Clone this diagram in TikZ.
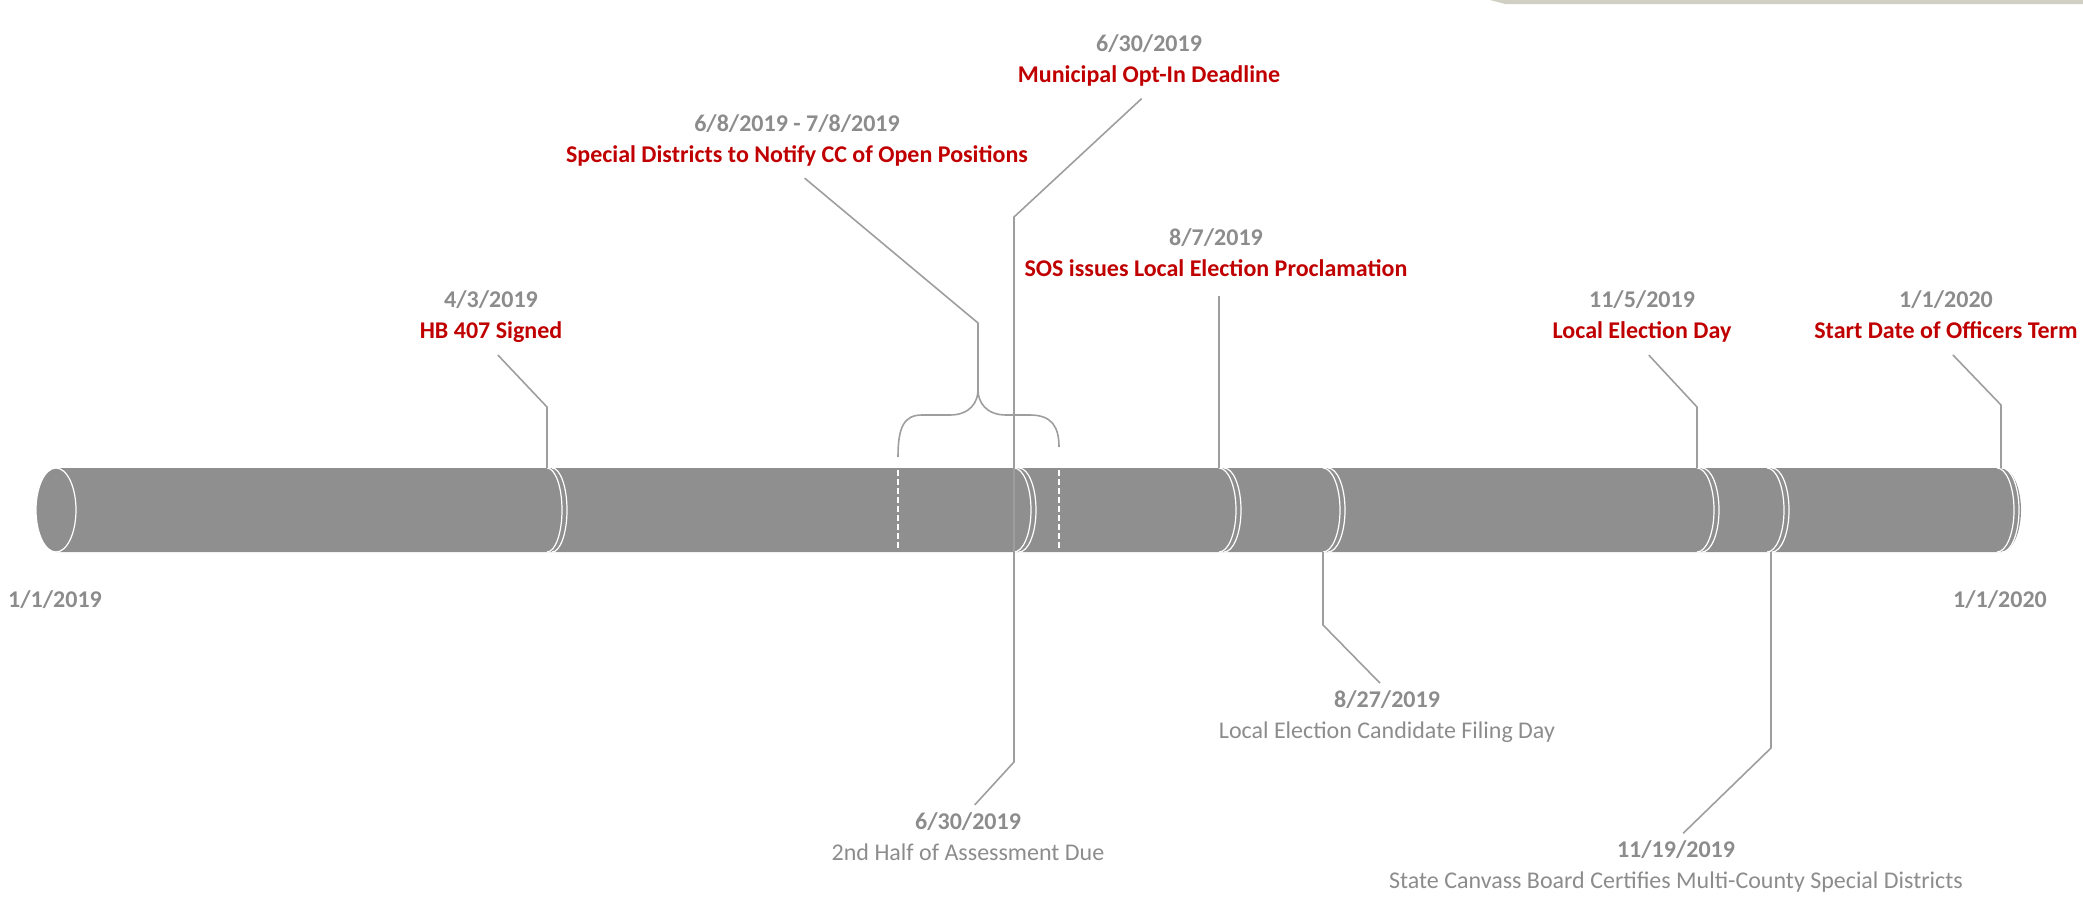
\documentclass[tikz,border=0pt]{standalone}
\usepackage{fontspec}
\setmainfont{Carlito}

\definecolor{tlfill}{HTML}{8F8F8F}
\definecolor{tlline}{HTML}{9E9E9E}
\definecolor{tlgray}{HTML}{8C8C8C}
\definecolor{tlred}{HTML}{C00000}
\definecolor{tlband}{HTML}{CFCFC4}

\begin{document}
\begin{tikzpicture}[x=1pt, y=-1pt,
  datelbl/.style={align=center, inner sep=0pt, text=tlgray,
    font=\fontsize{24}{31}\selectfont\bfseries,
    execute at begin node=\strut, execute at end node=\strut},
  callout/.style={draw=tlline, line width=1.6pt, shorten >=10pt},
  seam/.style={white, line width=1.2pt},
  dashline/.style={white, line width=1.2pt, dash pattern=on 6pt off 3pt}]

\useasboundingbox (0,0) rectangle (2083,900);
\fill[tlband] (1490,0) -- (2083,0) -- (2083,4) -- (1505,4) -- cycle;

% timeline bar
\fill[tlfill] (56,468) -- (2001,468) arc (90:-90:20pt and 42pt) -- (56,552) arc (270:90:20pt and 42pt) -- cycle;
\draw[seam] (56,510) ellipse (20pt and 42pt);
\draw[seam] (547,468) arc (90:-90:15pt and 42pt) (552,468) arc (90:-90:15pt and 42pt);
\draw[seam] (1014,468) arc (90:-90:17pt and 42pt) (1019,468) arc (90:-90:17pt and 42pt);
\draw[seam] (1219,468) arc (90:-90:17pt and 42pt) (1224,468) arc (90:-90:17pt and 42pt);
\draw[seam] (1323,468) arc (90:-90:17pt and 42pt) (1328,468) arc (90:-90:17pt and 42pt);
\draw[seam] (1697,468) arc (90:-90:17pt and 42pt) (1702,468) arc (90:-90:17pt and 42pt);
\draw[seam] (1767,468) arc (90:-90:17pt and 42pt) (1772,468) arc (90:-90:17pt and 42pt);
\draw[seam] (1997,468) arc (90:-90:17pt and 42pt) (2002,468) arc (90:-90:17pt and 42pt);
\draw[dashline] (898,470) -- (898,550);
\draw[dashline] (1059,470) -- (1059,550);

\coordinate (hb) at (547,468);
\coordinate (mun) at (1014,468);
\coordinate (sos) at (1219,468);
\coordinate (fil) at (1323,552);
\coordinate (eday) at (1697,468);
\coordinate (canv) at (1771,552);
\coordinate (jan) at (2001,468);
\coordinate (cusp) at (978,390);

\node[datelbl] (start) at (55,601) {1/1/2019};
\node[datelbl] (finish) at (2000,601) {1/1/2020};
\node[datelbl] (signed) at (491,319) {4/3/2019\\\textcolor{tlred}{HB 407 Signed}};
\node[datelbl] (optin) at (1149,63) {6/30/2019\\\textcolor{tlred}{Municipal Opt-In Deadline}};
\node[datelbl] (notify) at (797,143) {6/8/2019 - 7/8/2019\\\textcolor{tlred}{Special Districts to Notify CC of Open Positions}};
\node[datelbl] (proclaim) at (1216,257) {8/7/2019\\\textcolor{tlred}{SOS issues Local Election Proclamation}};
\node[datelbl] (electday) at (1642,319) {11/5/2019\\\textcolor{tlred}{Local Election Day}};
\node[datelbl] (term) at (1946,319) {1/1/2020\\\textcolor{tlred}{Start Date of Officers Term}};
\node[datelbl] (assess) at (968,841) {6/30/2019\\\textmd{2nd Half of Assessment Due}};
\node[datelbl] (filing) at (1387,719) {8/27/2019\\\textmd{Local Election Candidate Filing Day}};
\node[datelbl] (canvass) at (1676,869) {11/19/2019\\\textmd{State Canvass Board Certifies Multi-County Special Districts}};

\draw[callout] (hb) -- (547,407) -- (signed.south);
\draw[callout] (mun) -- (1014,217) -- (optin.south);
\draw[callout] (mun) -- (1014,762) -- (assess.north);
\draw[callout] (sos) -- (sos |- proclaim.south);
\draw[callout] (fil) -- (1323,625) -- (filing.north);
\draw[callout] (eday) -- (1697,407) -- (electday.south);
\draw[callout] (canv) -- (1771,748) -- (canvass.north);
\draw[callout] (jan) -- (2001,405) -- (term.south);
\draw[callout] (cusp) -- (978,323) -- (notify.south);
\draw[callout] (898,457) .. controls (898,427) and (904,415) .. (922,415) -- (950,415)
  .. controls (970,415) and (978,402) .. (cusp)
  .. controls (978,402) and (986,415) .. (1006,415) -- (1030,415)
  .. controls (1052,415) and (1059,427) .. (1059,457);

\end{tikzpicture}
\end{document}
